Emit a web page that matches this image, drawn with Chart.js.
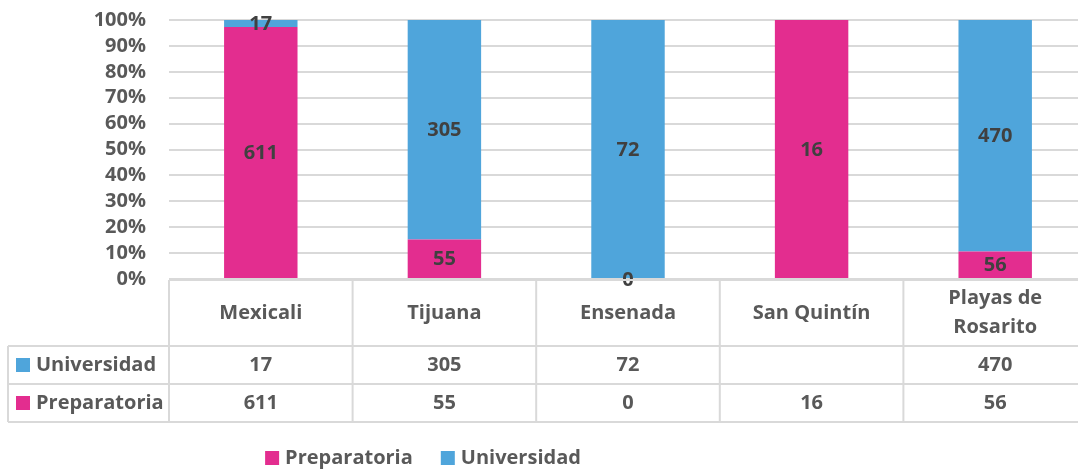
<!DOCTYPE html>
<html lang="es">
<head>
<meta charset="UTF-8">
<title>Preparatoria / Universidad por municipio</title>
<script src="https://cdn.jsdelivr.net/npm/chart.js"></script>
<style>
  body { margin: 0; background: #fff; overflow: hidden; }
  #wrap { width: 1090px; height: 470px; }
</style>
</head>
<body>
<div id="wrap"><canvas id="grafica" width="1090" height="470"></canvas></div>
<script>
// municipios y totales por nivel
const municipios = ['Mexicali', 'Tijuana', 'Ensenada', 'San Quintín', ['Playas de', 'Rosarito']];
const preparatoria = [611, 55, 0, 16, 56];
const universidad = [17, 305, 72, null, 470];

const ROSA = '#E32D8F';
const AZUL = '#4FA5DB';
const GRIS = '#595959';
const LINEA = '#D9D9D9';
const FUENTE = '"Open Sans", sans-serif';

// porcentaje de cada valor sobre el total del municipio (barras al 100%)
function porcentaje(valores) {
    return valores.map((v, i) => {
        if (v == null) return null;
        const total = (preparatoria[i] || 0) + (universidad[i] || 0);
        return total ? v / total * 100 : 0;
    });
}

// etiquetas con el valor absoluto en el centro de cada segmento
const etiquetasValor = {
    id: 'etiquetasValor',
    afterDatasetsDraw(chart) {
        const ctx = chart.ctx;
        ctx.save();
        ctx.font = 'bold 20px ' + FUENTE;
        ctx.fillStyle = '#404040';
        ctx.textAlign = 'center';
        ctx.textBaseline = 'middle';
        chart.data.datasets.forEach((ds, d) => {
            chart.getDatasetMeta(d).data.forEach((bar, i) => {
                const v = ds.valores[i];
                if (v == null) return;
                ctx.fillText(String(v), bar.x, (bar.y + bar.base) / 2 + 1);
            });
        });
        ctx.restore();
    }
};

// tabla de datos debajo del eje y leyenda inferior
const tablaDatos = {
    id: 'tablaDatos',
    afterDraw(chart) {
        const ctx = chart.ctx;
        const x = chart.scales.x;
        const area = chart.chartArea;
        const n = municipios.length;
        const ancho = (area.right - area.left) / n;
        const izq = area.left;
        const der = area.right;
        const yTop = 280, yHead = 346, yFila1 = 384, yFila2 = 422, xTabla = 8;

        ctx.save();
        ctx.strokeStyle = LINEA;
        ctx.lineWidth = 2;
        ctx.beginPath();
        ctx.moveTo(izq, yTop); ctx.lineTo(der, yTop);
        [yHead, yFila1, yFila2].forEach(y => { ctx.moveTo(xTabla, y); ctx.lineTo(der, y); });
        for (let i = 0; i <= n; i++) {
            const xi = izq + i * ancho;
            ctx.moveTo(xi, yTop); ctx.lineTo(xi, yFila2);
        }
        ctx.moveTo(xTabla, yHead); ctx.lineTo(xTabla, yFila2);
        ctx.stroke();

        ctx.font = 'bold 20px ' + FUENTE;
        ctx.fillStyle = GRIS;
        ctx.textAlign = 'center';
        ctx.textBaseline = 'middle';
        municipios.forEach((m, i) => {
            const cx = x.getPixelForValue(i);
            const lineas = Array.isArray(m) ? m : [m];
            const y0 = (yTop + yHead) / 2 - (lineas.length - 1) * 29 / 2;
            lineas.forEach((t, k) => ctx.fillText(t, cx, y0 + k * 29));
        });

        // filas: Universidad arriba, Preparatoria abajo
        const filas = [
            { nombre: 'Universidad', color: AZUL, valores: universidad, y: (yHead + yFila1) / 2 },
            { nombre: 'Preparatoria', color: ROSA, valores: preparatoria, y: (yFila1 + yFila2) / 2 }
        ];
        filas.forEach(f => {
            f.valores.forEach((v, i) => {
                if (v == null) return;
                ctx.fillText(String(v), x.getPixelForValue(i), f.y);
            });
            ctx.fillStyle = f.color;
            ctx.fillRect(16, f.y - 7, 14, 14);
            ctx.fillStyle = GRIS;
            ctx.textAlign = 'left';
            ctx.fillText(f.nombre, 36, f.y);
            ctx.textAlign = 'center';
        });

        // leyenda
        const items = chart.data.datasets.map(ds => ({ t: ds.label, c: ds.backgroundColor }));
        ctx.textAlign = 'left';
        const anchos = items.map(it => 14 + 6 + ctx.measureText(it.t).width);
        const total = anchos.reduce((a, b) => a + b, 0) + 28 * (items.length - 1);
        let lx = 423 - total / 2;
        const ly = 458;
        items.forEach((it, k) => {
            ctx.fillStyle = it.c;
            ctx.fillRect(lx, ly - 7, 14, 14);
            ctx.fillStyle = GRIS;
            ctx.fillText(it.t, lx + 20, ly);
            lx += anchos[k] + 28;
        });
        ctx.restore();
    }
};

new Chart(document.getElementById('grafica'), {
    type: 'bar',
    data: {
        labels: municipios,
        datasets: [
            { label: 'Preparatoria', data: porcentaje(preparatoria), valores: preparatoria,
              backgroundColor: ROSA, barPercentage: 0.4, categoryPercentage: 1 },
            { label: 'Universidad', data: porcentaje(universidad), valores: universidad,
              backgroundColor: AZUL, barPercentage: 0.4, categoryPercentage: 1 }
        ]
    },
    options: {
        responsive: false,
        animation: false,
        layout: { autoPadding: false, padding: { top: 20, left: 0, right: 3, bottom: 48 } },
        plugins: { legend: { display: false }, tooltip: { enabled: false } },
        scales: {
            x: {
                stacked: true,
                grid: { display: false },
                border: { display: false },
                ticks: { display: false },
                afterFit(scale) { scale.height = 143; }
            },
            y: {
                stacked: true,
                min: 0,
                max: 100,
                grid: { color: LINEA, lineWidth: 2, drawTicks: false },
                border: { display: false },
                ticks: {
                    stepSize: 10,
                    autoSkip: false,
                    padding: 23,
                    color: GRIS,
                    font: { family: FUENTE, size: 20, weight: 'bold' },
                    callback: v => v + '%'
                },
                afterFit(scale) {
                    scale.width = 169;
                    scale.paddingTop = 0;
                    scale.paddingBottom = 0;
                }
            }
        }
    },
    plugins: [etiquetasValor, tablaDatos]
});
</script>
</body>
</html>
